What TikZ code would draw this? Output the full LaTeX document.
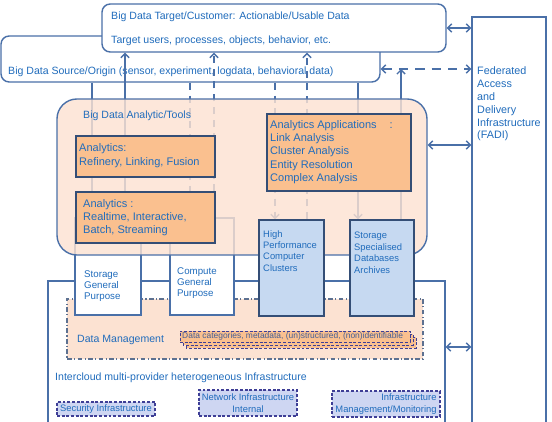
\documentclass[tikz,border=0pt]{standalone}
\usepackage{fontspec}
\setmainfont{Liberation Sans}
\usetikzlibrary{arrows.meta,fit}

\definecolor{lineblue}{RGB}{74,112,168}
\definecolor{textblue}{RGB}{32,108,188}
\definecolor{peach}{RGB}{252,226,210}
\definecolor{orangefill}{RGB}{250,192,143}
\definecolor{darkedge}{RGB}{52,78,118}
\definecolor{hpcfill}{RGB}{198,217,241}
\definecolor{dashedge}{RGB}{62,62,150}
\definecolor{infrafill}{RGB}{206,214,242}
\definecolor{catblue}{RGB}{70,96,150}

\pgfdeclarelayer{front}
\pgfsetlayers{main,front}

\tikzset{
  box/.style={draw=lineblue, line width=1.2pt, inner sep=0pt},
  anbox/.style={draw=darkedge, line width=1.2pt, fill=orangefill, inner sep=0pt},
  resbox/.style={draw=darkedge, line width=1.2pt, fill=hpcfill, inner sep=0pt},
  dmbox/.style={draw=darkedge!80, line width=1pt, fill=peach, inner sep=0pt,
    dash pattern=on 4pt off 2pt on 1pt off 2pt},
  catbox/.style={draw=dashedge, line width=0.8pt, fill=orangefill, inner sep=0pt,
    dash pattern=on 2.5pt off 1.5pt},
  secbox/.style={draw=dashedge, line width=0.9pt, fill=infrafill, inner sep=0pt,
    dash pattern=on 2.5pt off 1.5pt},
  txt/.style={anchor=base west, inner sep=0pt},
  mtxt/.style={anchor=north west, align=left, inner sep=0pt},
  conn/.style={draw=lineblue, line width=1.2pt},
  tip/.style={-{Straight Barb[length=3.5pt,width=7pt]}},
  tips/.style={{Straight Barb[length=3.5pt,width=7pt]}-{Straight Barb[length=3.5pt,width=7pt]}},
  dsh/.style={dash pattern=on 6pt off 5pt}
}

\begin{document}
\begin{tikzpicture}[x=0.03cm, y=-0.03cm, font=\fontsize{9}{11}\selectfont, text=textblue]
    \useasboundingbox (0,0) rectangle (552,422);
    \clip (0,0) rectangle (552,422);

    % Source and target
    \node[box, rounded corners=7pt, fill=white, fit={(1,36) (380,82)}] (source) {};
    \node[box, rounded corners=7pt, fill=white, fit={(102,4) (446,52)}] (target) {};
    \node[txt] (targettitle) at (111,19.5) {Big Data Target/Customer: Actionable/Usable Data};
    \node[txt] (targetusers) at (111,43.5) {Target users, processes, objects, behavior, etc.};
    \node[txt] (sourcetitle) at (8,74.5) {Big Data Source/Origin (sensor, experiment, logdata, behavioral data)};

    % Infrastructure
    \node[box, fit={(48,281) (445,440)}] (infra) {};
    \node[dmbox, fit={(67,299) (423,359)}] (dm) {};
    \node[txt] (dmlabel) at (77,342.5) {Data Management};
    \foreach \d in {6,3}
        \draw[catbox] (180+\d,331+\d) rectangle (410+\d,342+\d); % stacked copies
    \node[catbox, fit={(180,331) (410,342)}] (cat) {};
    \node[anchor=west, inner sep=0pt, text=catblue, font=\fontsize{7.2}{8}\selectfont] (catlabel) at (182,336.5)
        {Data categories, metadata, (un)structured, (non)identifiable};
    \node[txt] (icloud) at (55,380.5) {Intercloud multi-provider heterogeneous Infrastructure};

    \node[secbox, fit={(57,402) (155,416)}] (sec) {};
    \node[font=\fontsize{8}{9}\selectfont, inner sep=0pt] (seclabel) at (sec.center) {Security Infrastructure};
    \node[secbox, fit={(199,390) (297,416)}] (net) {};
    \node[font=\fontsize{8}{10}\selectfont, align=center, inner sep=0pt] (netlabel) at (net.center)
        {Network Infrastructure\\Internal};
    \node[secbox, fit={(332,391) (440,417)}] (mgmt) {};
    \node[font=\fontsize{8}{10}\selectfont, align=right, inner sep=0pt] (mgmtlabel) at (mgmt.center)
        {Infrastructure\\Management/Monitoring};

    % Resource boxes
    \node[box, fill=white, fit={(75,218) (141,315)}] (sgp) {};
    \node[mtxt, font=\fontsize{8.3}{9.8}\selectfont] (sgplabel) at (84,270) {Storage\\General\\Purpose};
    \node[box, fill=white, fit={(170,218) (234,315)}] (cgp) {};
    \node[mtxt, font=\fontsize{8.3}{9.8}\selectfont] (cgplabel) at (177,267) {Compute\\General\\Purpose};
    \begin{pgfonlayer}{front}
        \node[resbox, fit={(259,220) (324,316)}] (hpc) {};
        \node[mtxt, font=\fontsize{8}{9.8}\selectfont] (hpclabel) at (263,230) {High\\Performance\\Computer\\Clusters};
        \node[resbox, fit={(350,220) (414,316)}] (ssd) {};
        \node[mtxt, font=\fontsize{8}{9.8}\selectfont] (ssdlabel) at (354,232) {Storage\\Specialised\\Databases\\Archives};
    \end{pgfonlayer}

    % FADI
    \node[box, fill=white, fit={(472,17) (546,440)}] (fadi) {};
    \node[mtxt, font=\fontsize{9.2}{11}\selectfont] (fadilabel) at (477,66.5)
        {Federated\\Access\\and\\Delivery\\Infrastructure\\(FADI)};

    % Columns and levels
    \coordinate (sgpin) at (92,0);
    \coordinate (sgpout) at (125,0);
    \coordinate (cgpin) at (190,0);
    \coordinate (cgpout) at (214,0);
    \coordinate (hpcin) at (275,0);
    \coordinate (hpcout) at (307,0);
    \coordinate (ssdin) at (358,0);
    \coordinate (ssdout) at (401,0);
    \coordinate (dashlevel) at (0,69);
    \coordinate (anlevel) at (0,145);
    \coordinate (inflevel) at (0,347);

    % Data flows
    \draw[conn, tip] (sgpin |- source.south) -- (sgpin |- sgp.north);
    \draw[conn, tip] (sgpout |- sgp.north) -- (sgpout |- target.south);
    \draw[conn, tip, dsh] (cgpin |- source.south) -- (cgpin |- cgp.north);
    \draw[conn, tip, dsh] (cgpout |- cgp.north) -- (cgpout |- target.south);
    \draw[conn, tip, dsh] (hpcin |- source.south) -- (hpcin |- hpc.north);
    \draw[conn, tip, dsh] (hpcout |- hpc.north) -- (hpcout |- target.south);
    \draw[conn, tip] (ssdin |- source.south) -- (ssdin |- ssd.north);
    \draw[conn, tip] (ssdout |- ssd.north) -- (ssdout |- dashlevel);

    % Analytics
    \node[box, rounded corners=17pt, fill=peach, fill opacity=0.82, fit={(57,99) (427,255)}] (analytic) {};
    \node[txt] (analyticlabel) at (83,118.5) {Big Data Analytic/Tools};
    \node[anbox, fit={(76,136) (215,177)}] (anrefine) {};
    \node[mtxt, font=\fontsize{9.4}{12}\selectfont] (anrefinelabel) at (79,143) {Analytics:\\Refinery, Linking, Fusion};
    \node[anbox, fit={(76,192) (215,243)}] (anreal) {};
    \node[mtxt, font=\fontsize{9.4}{11.3}\selectfont] (anreallabel) at (83,199) {Analytics :\\Realtime, Interactive,\\Batch, Streaming};
    \node[anbox, fit={(267,114) (411,191)}] (anapps) {};
    \node[mtxt, font=\fontsize{9.4}{11.4}\selectfont] (anappslabel) at (270,120)
        {Analytics Applications\hspace{11pt}:\\Link Analysis\\Cluster Analysis\\Entity Resolution\\Complex Analysis};

    % Links to FADI
    \draw[conn, tips] (target.east) -- (target.east -| fadi.west);
    \draw[conn, tips, dash pattern=on 8pt off 6pt] (source.east |- dashlevel) -- (fadi.west |- dashlevel);
    \draw[conn, tips] (analytic.east |- anlevel) -- (fadi.west |- anlevel);
    \draw[conn, tips] (infra.east |- inflevel) -- (fadi.west |- inflevel);
\end{tikzpicture}
\end{document}
